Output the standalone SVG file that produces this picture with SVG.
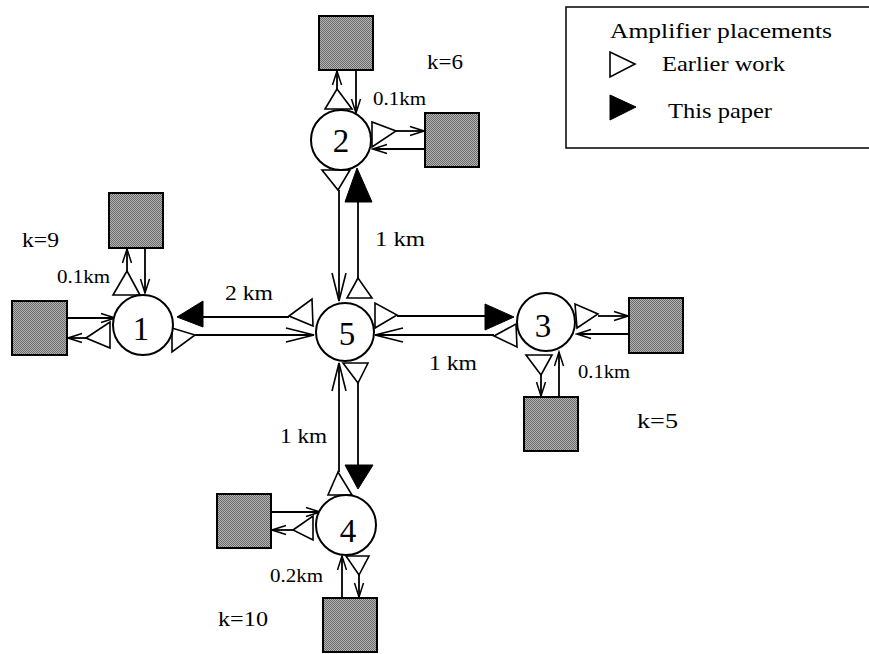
<svg xmlns="http://www.w3.org/2000/svg" width="869" height="654" viewBox="0 0 869 654">
<style>
text{font-family:"Liberation Serif","Times New Roman",serif;fill:#000}
.num{font-size:33px;text-anchor:middle}
.lbl{font-size:21px;lengthAdjust:spacingAndGlyphs}
.sm{font-size:19px}
.kl{font-size:22px}
.node{fill:#fff;stroke:#000;stroke-width:2}
.sq{fill:url(#dots);stroke:#000;stroke-width:2}
.ot{fill:#fff;stroke:#000;stroke-width:1.6;stroke-linejoin:miter}
.ft{fill:#000;stroke:#000;stroke-width:1}
.ln{fill:none;stroke:#000;stroke-width:1.8}
.la{fill:none;stroke:#000;stroke-width:1.8;marker-end:url(#long)}
.sa{fill:none;stroke:#000;stroke-width:1.8;marker-end:url(#short)}
</style>
<defs>
<pattern id="dots" width="2" height="2" patternUnits="userSpaceOnUse">
<rect width="2" height="2" fill="#b4b4b4"/>
<rect width="1" height="1" fill="#6a6a6a"/>
<rect x="1" y="1" width="1" height="1" fill="#6a6a6a"/>
</pattern>
<marker id="long" markerUnits="userSpaceOnUse" viewBox="-30 -9 32 18" refX="0" refY="0" markerWidth="32" markerHeight="18" orient="auto">
<path d="M-28,-7 L0,0 L-28,7" fill="none" stroke="#000" stroke-width="1.6"/>
</marker>
<marker id="short" markerUnits="userSpaceOnUse" viewBox="-16 -6 18 12" refX="0" refY="0" markerWidth="18" markerHeight="12" orient="auto">
<path d="M-14,-4.5 L0,0 L-14,4.5" fill="none" stroke="#000" stroke-width="1.5"/>
</marker>
</defs>
<rect x="0" y="0" width="869" height="654" fill="#fff"/>

<g id="legend">
<rect x="566" y="7" width="320" height="141" fill="none" stroke="#000" stroke-width="1.5"/>
<text class="kl" x="610" y="38" textLength="222" lengthAdjust="spacingAndGlyphs">Amplifier placements</text>
<polygon class="ot" points="610,52 610,77 635,64"/>
<text class="kl" x="662" y="71" textLength="123" lengthAdjust="spacingAndGlyphs">Earlier work</text>
<polygon class="ft" points="610,95 610,120 636,107"/>
<text class="kl" x="668" y="118" textLength="104" lengthAdjust="spacingAndGlyphs">This paper</text>
</g>

<g id="connectors">
<!-- 1 - 5 -->
<line class="ln" x1="203" y1="317" x2="289" y2="317"/>
<line class="la" x1="195" y1="335" x2="314" y2="335"/>
<!-- 5 - 3 -->
<line class="ln" x1="397" y1="316" x2="486" y2="316"/>
<line class="la" x1="494" y1="335" x2="375" y2="335"/>
<!-- 2 - 5 -->
<line class="la" x1="339" y1="190" x2="339" y2="301"/>
<line class="ln" x1="358" y1="278" x2="358" y2="201"/>
<!-- 5 - 4 -->
<line class="ln" x1="358" y1="383" x2="358" y2="466"/>
<line class="la" x1="339" y1="472" x2="339" y2="363"/>
<!-- node 2 local -->
<line class="sa" x1="337" y1="89" x2="337" y2="71"/>
<line class="sa" x1="356" y1="71" x2="356" y2="113"/>
<line class="sa" x1="396" y1="131" x2="424" y2="131"/>
<line class="sa" x1="424" y1="149" x2="373" y2="149"/>
<!-- node 1 local -->
<line class="sa" x1="127" y1="271" x2="127" y2="249"/>
<line class="sa" x1="145" y1="249" x2="145" y2="293"/>
<line class="sa" x1="68" y1="318" x2="115" y2="318"/>
<line class="sa" x1="86" y1="338" x2="68" y2="338"/>
<!-- node 3 local -->
<line class="sa" x1="598" y1="316" x2="628" y2="316"/>
<line class="sa" x1="628" y1="334" x2="577" y2="334"/>
<line class="sa" x1="541" y1="375" x2="541" y2="396"/>
<line class="sa" x1="559" y1="396" x2="559" y2="352"/>
<!-- node 4 local -->
<line class="sa" x1="272" y1="512" x2="320" y2="512"/>
<line class="sa" x1="293" y1="530" x2="272" y2="530"/>
<line class="sa" x1="342" y1="597" x2="342" y2="556"/>
<line class="sa" x1="359" y1="575" x2="359" y2="597"/>
</g>

<g id="amplifiers">
<polygon class="ot" points="337,89 325,109 352,109"/>
<polygon class="ot" points="372,122 372,147 396,131"/>
<polygon class="ot" points="322,170 350,170 338,190"/>
<polygon class="ot" points="358,278 347,298 372,298"/>
<polygon class="ot" points="289,316 312,299 313,326"/>
<polygon class="ot" points="375,303 375,328 397,315"/>
<polygon class="ot" points="343,363 368,363 358,383"/>
<polygon class="ot" points="127,271 113,295 140,295"/>
<polygon class="ot" points="86,338 110,322 110,348"/>
<polygon class="ot" points="172,328 172,352 195,335"/>
<polygon class="ot" points="494,336 516,324 517,347"/>
<polygon class="ot" points="575,304 577,328 598,314"/>
<polygon class="ot" points="526,355 552,355 541,375"/>
<polygon class="ot" points="338,472 328,495 352,495"/>
<polygon class="ot" points="293,530 313,516 313,540"/>
<polygon class="ot" points="346,556 369,556 359,575"/>
<polygon class="ft" points="357,168 345,202 372,202"/>
<polygon class="ft" points="177,317 203,301 203,327"/>
<polygon class="ft" points="514,317 485,304 485,330"/>
<polygon class="ft" points="345,465 373,465 358,489"/>
</g>

<g id="n5">
<circle class="node" cx="345" cy="332" r="29"/>
<text class="num" x="347" y="345">5</text>
</g>
<g id="n2">
<circle class="node" cx="341" cy="140" r="30"/>
<text class="num" x="341" y="152">2</text>
<rect class="sq" x="319" y="16" width="54" height="54"/>
<rect class="sq" x="425" y="113" width="54" height="54"/>
<text class="kl" x="427" y="69" textLength="36" lengthAdjust="spacingAndGlyphs">k=6</text>
<text class="sm" x="373" y="105" textLength="53" lengthAdjust="spacingAndGlyphs">0.1km</text>
</g>
<g id="n1">
<circle class="node" cx="143" cy="325" r="30"/>
<text class="num" x="141" y="340">1</text>
<rect class="sq" x="109" y="193" width="54" height="55"/>
<rect class="sq" x="12" y="301" width="55" height="54"/>
<text class="kl" x="22" y="247" textLength="37" lengthAdjust="spacingAndGlyphs">k=9</text>
<text class="sm" x="57" y="283" textLength="53" lengthAdjust="spacingAndGlyphs">0.1km</text>
</g>
<g id="n3">
<circle class="node" cx="546" cy="322" r="29"/>
<text class="num" x="543" y="337">3</text>
<rect class="sq" x="629" y="298" width="54" height="55"/>
<rect class="sq" x="524" y="397" width="54" height="54"/>
<text class="sm" x="578" y="378" textLength="52" lengthAdjust="spacingAndGlyphs">0.1km</text>
<text class="kl" x="637" y="428" textLength="41" lengthAdjust="spacingAndGlyphs">k=5</text>
</g>
<g id="n4">
<circle class="node" cx="346" cy="525" r="30"/>
<text class="num" x="348" y="542">4</text>
<rect class="sq" x="217" y="494" width="54" height="54"/>
<rect class="sq" x="323" y="598" width="54" height="54"/>
<text class="sm" x="270" y="582" textLength="53" lengthAdjust="spacingAndGlyphs">0.2km</text>
<text class="kl" x="218" y="626" textLength="50" lengthAdjust="spacingAndGlyphs">k=10</text>
</g>
<g id="links-labels">
<text class="lbl" x="225" y="300" textLength="48" lengthAdjust="spacingAndGlyphs">2 km</text>
<text class="lbl" x="375" y="246" textLength="50" lengthAdjust="spacingAndGlyphs">1 km</text>
<text class="lbl" x="429" y="370" textLength="48" lengthAdjust="spacingAndGlyphs">1 km</text>
<text class="lbl" x="280" y="443" textLength="47" lengthAdjust="spacingAndGlyphs">1 km</text>
</g>
</svg>
